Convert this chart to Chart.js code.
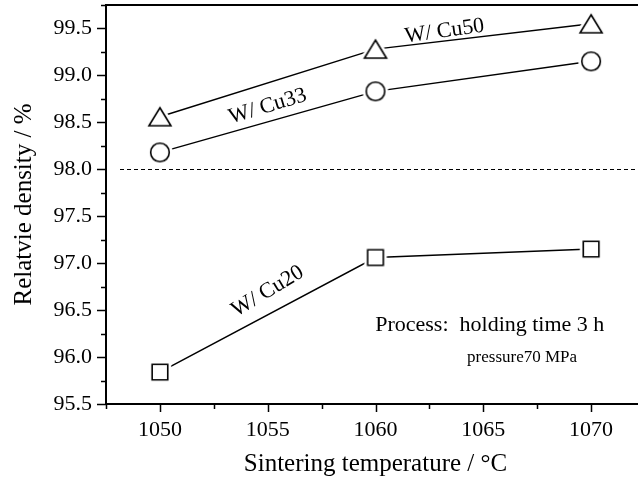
<!DOCTYPE html>
<html>
<head>
<meta charset="utf-8">
<title>Relative density vs sintering temperature</title>
<script src="https://cdn.jsdelivr.net/npm/chart.js@4.4.1/dist/chart.umd.min.js"></script>
<style>
    html, body { margin: 0; padding: 0; background: #fff; overflow: hidden; }
    #densityChart { display: block; }
</style>
</head>
<body>
<canvas id="densityChart" width="660" height="479"></canvas>
<script>
/* Sintering temperature (°C) and relative density (%) of W-Cu compacts */
const temps = [1050, 1060, 1070];
const cu50 = [98.56, 99.28, 99.55];
const cu33 = [98.18, 98.83, 99.15];
const cu20 = [95.84, 97.06, 97.15];

const xTicks = [1050, 1055, 1060, 1065, 1070];
const yTicks = [95.5, 96.0, 96.5, 97.0, 97.5, 98.0, 98.5, 99.0, 99.5];
const refDensity = 98.0;

const serif = '"Liberation Serif", "Times New Roman", serif';

// in-plot annotations, anchored in data units
const notes = [
    { text: 'W/ Cu50', x: 1063.2, y: 99.47, angle: -8, size: 22 },
    { text: 'W/ Cu33', x: 1055.0, y: 98.67, angle: -17, size: 22 },
    { text: 'W/ Cu20', x: 1055.0, y: 96.70, angle: -31, size: 22 },
    { text: 'Process:  holding time 3 h', x: 1065.3, y: 96.34, angle: 0, size: 22 },
    { text: 'pressure70 MPa', x: 1066.8, y: 96.0, angle: 0, size: 17 }
];

/* open markers with a white halo so the lines stop short of them */
function makeMarker(shape) {
    const size = 32;
    const c = document.createElement('canvas');
    c.width = c.height = size;
    const g = c.getContext('2d');
    g.translate(size / 2, size / 2);
    const path = () => {
        g.beginPath();
        if (shape === 'circle') {
            g.arc(0, 0, 9.3, 0, Math.PI * 2);
        } else if (shape === 'triangle') {
            g.moveTo(0, -9);
            g.lineTo(11, 9);
            g.lineTo(-11, 9);
            g.closePath();
        } else {
            g.rect(-7.8, -7.8, 15.6, 15.6);
        }
    };
    path();
    g.fillStyle = '#fff';
    g.strokeStyle = '#fff';
    g.lineWidth = 7;
    g.lineJoin = 'round';
    g.fill();
    g.stroke();
    path();
    g.strokeStyle = '#000';
    g.lineWidth = 1.6;
    g.lineJoin = 'miter';
    g.stroke();
    return c;
}

function series(values, shape) {
    return {
        data: temps.map((t, i) => ({ x: t, y: values[i] })),
        borderColor: '#000',
        borderWidth: 1.5,
        pointStyle: makeMarker(shape),
        pointRadius: 10,
        tension: 0,
        fill: false
    };
}

// keep the plot frame exactly where the axes say, no room for edge labels
function noEdgePadding(scale) {
    scale.paddingTop = 0;
    scale.paddingBottom = 0;
    scale.paddingLeft = 0;
    scale.paddingRight = 0;
}

/* =============================
   Frame, ticks, reference line, labels
   ============================= */
const decorations = {
    id: 'decorations',
    beforeDatasetsDraw(chart) {
        const { ctx, chartArea, scales } = chart;
        const y = scales.y.getPixelForValue(refDensity);
        ctx.save();
        ctx.strokeStyle = '#000';
        ctx.lineWidth = 1;
        ctx.setLineDash([4, 3]);
        ctx.beginPath();
        ctx.moveTo(chartArea.left + 14, Math.round(y) + 0.5);
        ctx.lineTo(chartArea.right - 8, Math.round(y) + 0.5);
        ctx.stroke();
        ctx.restore();
    },
    afterDraw(chart) {
        const { ctx, chartArea, scales } = chart;
        const { left, right, top, bottom } = chartArea;
        ctx.save();
        ctx.strokeStyle = '#000';
        ctx.lineWidth = 2;
        ctx.strokeRect(left, top, right - left, bottom - top);

        // y ticks: major every 0.5, minor in between
        ctx.lineWidth = 1.5;
        ctx.beginPath();
        for (let v = 95.5; v <= 99.75 + 1e-9; v += 0.25) {
            const py = Math.round(scales.y.getPixelForValue(v)) + 0.5;
            const major = yTicks.some(t => Math.abs(t - v) < 1e-6);
            ctx.moveTo(left, py);
            ctx.lineTo(left - (major ? 9 : 5), py);
        }
        // x ticks: major every 5, minor in between
        for (let v = 1047.5; v <= 1072.5 + 1e-9; v += 2.5) {
            const px = Math.round(scales.x.getPixelForValue(v)) + 0.5;
            const major = xTicks.includes(v);
            ctx.moveTo(px, bottom);
            ctx.lineTo(px, bottom + (major ? 8 : 5));
        }
        ctx.stroke();

        ctx.fillStyle = '#000';
        ctx.textAlign = 'center';
        ctx.textBaseline = 'middle';
        notes.forEach(n => {
            ctx.save();
            ctx.translate(scales.x.getPixelForValue(n.x), scales.y.getPixelForValue(n.y));
            ctx.rotate(n.angle * Math.PI / 180);
            ctx.font = n.size + 'px ' + serif;
            ctx.fillText(n.text, 0, 0);
            ctx.restore();
        });
        ctx.restore();
    }
};

new Chart(document.getElementById('densityChart'), {
    type: 'line',
    data: {
        datasets: [
            series(cu50, 'triangle'),
            series(cu33, 'circle'),
            series(cu20, 'square')
        ]
    },
    options: {
        responsive: false,
        devicePixelRatio: 1,
        animation: false,
        events: [],
        layout: {
            autoPadding: false,
            padding: { top: 5, right: 15, left: 0, bottom: 0 }
        },
        plugins: {
            legend: { display: false },
            tooltip: { enabled: false }
        },
        scales: {
            x: {
                type: 'linear',
                min: 1047.5,
                max: 1072.5,
                grid: { display: false, drawTicks: false },
                border: { display: false },
                afterBuildTicks: scale => { scale.ticks = xTicks.map(v => ({ value: v })); },
                afterFit: scale => { scale.height = 75; noEdgePadding(scale); },
                ticks: {
                    color: '#000',
                    padding: 13,
                    maxRotation: 0,
                    autoSkip: false,
                    font: { family: serif, size: 22 },
                    callback: v => String(v)
                },
                title: {
                    display: true,
                    text: 'Sintering temperature / °C',
                    color: '#000',
                    font: { family: serif, size: 25 },
                    padding: { top: 2, bottom: 0 }
                }
            },
            y: {
                min: 95.5,
                max: 99.75,
                grid: { display: false, drawTicks: false },
                border: { display: false },
                afterBuildTicks: scale => { scale.ticks = yTicks.map(v => ({ value: v })); },
                afterFit: scale => { scale.width = 106; noEdgePadding(scale); },
                ticks: {
                    color: '#000',
                    padding: 14,
                    autoSkip: false,
                    font: { family: serif, size: 22 },
                    callback: v => Number(v).toFixed(1)
                },
                title: {
                    display: true,
                    text: 'Relatvie density / %',
                    color: '#000',
                    font: { family: serif, size: 25 },
                    padding: { top: 9, bottom: 0 }
                }
            }
        }
    },
    plugins: [decorations]
});
</script>
</body>
</html>
